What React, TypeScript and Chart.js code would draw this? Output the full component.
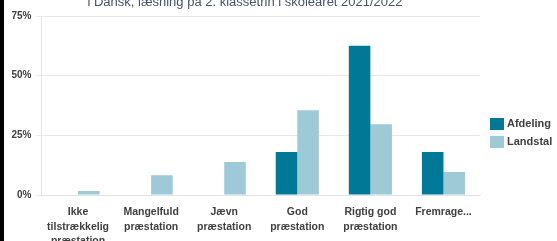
import React, { useEffect, useRef } from "react";
import { Chart, registerables } from "chart.js";

Chart.register(...registerables);

const categories: (string | string[])[] = [
  ["Ikke", "tilstrækkelig", "præstation"],
  ["Mangelfuld", "præstation"],
  ["Jævn", "præstation"],
  ["God", "præstation"],
  ["Rigtig god", "præstation"],
  "Fremrage...",
];
const seriesNames = ["Afdeling", "Landstal"];
const afdeling = [0, 0, 0, 18, 62.5, 18];
const landstal = [1.7, 8.3, 13.8, 35.5, 29.6, 9.6];
const yTicks = [0, 25, 50, 75];
const titleText = "i Dansk, læsning på 2. klassetrin i skoleåret 2021/2022";

const DARK = "#007896";
const LIGHT = "#9ecad7";
const FONT = "'Liberation Sans', Arial, sans-serif";

const overlayPlugin = {
  id: "overlay",
  afterDraw(chart: any) {
    const ctx = chart.ctx;
    ctx.save();
    // title (cropped at top)
    ctx.font = `13px ${FONT}`;
    ctx.fillStyle = "#44546a";
    ctx.textAlign = "center";
    ctx.textBaseline = "alphabetic";
    ctx.fillText(titleText, 245, 6);
    // legend
    const ds = chart.data.datasets;
    ctx.font = `bold 11px ${FONT}`;
    ctx.textAlign = "left";
    ctx.textBaseline = "middle";
    ds.forEach((d: any, i: number) => {
      const y = 124 + i * 18;
      ctx.fillStyle = d.backgroundColor;
      ctx.fillRect(490, y - 6, 14, 12);
      ctx.fillStyle = "#404040";
      ctx.fillText(d.label, 507, y);
    });
    ctx.restore();
  },
};

export default function App() {
  const ref = useRef<HTMLCanvasElement>(null);
  useEffect(() => {
    document.body.style.margin = "0";
    const chart = new Chart(ref.current!, {
      type: "bar",
      data: {
        labels: categories,
        datasets: [
          { label: seriesNames[0], data: afdeling, backgroundColor: DARK, categoryPercentage: 0.59, barPercentage: 1 },
          { label: seriesNames[1], data: landstal, backgroundColor: LIGHT, categoryPercentage: 0.59, barPercentage: 1 },
        ],
      },
      options: {
        animation: false,
        responsive: false,
        devicePixelRatio: 1,
        layout: { padding: { top: 16, right: 77, left: 6, bottom: 0 } },
        plugins: {
          legend: { display: false },
          title: { display: false },
          tooltip: { enabled: false },
        },
        scales: {
          x: {
            grid: { display: false, drawTicks: false },
            border: { color: "#e3e3e3" },
            ticks: {
              color: "#404040",
              font: { family: FONT, size: 10.5, weight: "bold", lineHeight: 1.38 },
              padding: 10,
              maxRotation: 0,
              autoSkip: false,
            },
            afterFit(axis: any) {
              axis.height = 46;
            },
          },
          y: {
            min: 0,
            max: 75,
            afterBuildTicks(axis: any) {
              axis.ticks = yTicks.map((v) => ({ value: v }));
            },
            grid: { color: "#e8e8e8", tickLength: 5 },
            border: { color: "#e3e3e3" },
            ticks: {
              color: "#404040",
              font: { family: FONT, size: 10, weight: "bold" },
              padding: 5,
              callback: (v: any) => v + "%",
            },
            afterFit(axis: any) {
              axis.width = 35.5;
            },
          },
        },
      },
      plugins: [overlayPlugin],
    });
    return () => chart.destroy();
  }, []);
  return (
    <div style={{ position: "relative", width: 557, height: 241, overflow: "hidden", background: "#fff" }}>
      <canvas ref={ref} width={557} height={241} style={{ position: "absolute", left: 0, top: 0 }} />
      <div style={{ position: "absolute", left: 0, top: 0, width: 4, height: 241, background: "#000" }} />
    </div>
  );
}
